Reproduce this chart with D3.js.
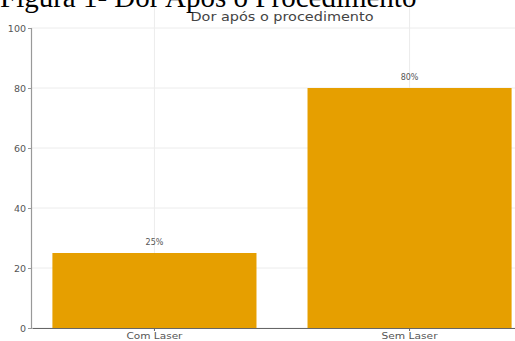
<!DOCTYPE html>
<html>
<head>
<meta charset="utf-8">
<script src="https://cdn.jsdelivr.net/npm/d3@7"></script>
<style>
  body { margin: 0; background: #fff; }
  svg { display: block; }
</style>
</head>
<body>
<div id="chart"></div>
<script>
// Dados do gráfico
const categories = ["Com Laser", "Sem Laser"];
const values = [25, 80];
const yTicks = [0, 20, 40, 60, 80, 100];

const width = 515;
const height = 341;
const margin = { top: 28, right: 0, bottom: 13, left: 31 };

const svg = d3.select("#chart")
    .append("svg")
    .attr("width", width)
    .attr("height", height);

// Escalas
const x = d3.scaleBand()
    .domain(categories)
    .range([margin.left + 1, 532])
    .paddingInner(0.2)
    .paddingOuter(0.08);

const y = d3.scaleLinear()
    .domain([0, 100])
    .range([height - margin.bottom, margin.top]);

// Grade
svg.append("g")
    .selectAll("line")
    .data(yTicks)
    .join("line")
    .attr("x1", margin.left)
    .attr("x2", width)
    .attr("y1", d => y(d))
    .attr("y2", d => y(d))
    .attr("stroke", "#ececec")
    .attr("stroke-width", 1);

svg.append("g")
    .selectAll("line")
    .data(categories)
    .join("line")
    .attr("x1", d => x(d) + x.bandwidth() / 2)
    .attr("x2", d => x(d) + x.bandwidth() / 2)
    .attr("y1", y(0))
    .attr("y2", 0)
    .attr("stroke", "#ececec")
    .attr("stroke-width", 1);

// Barras
svg.selectAll(".bar")
    .data(values)
    .join("rect")
    .attr("class", "bar")
    .attr("x", (d, i) => x(categories[i]))
    .attr("y", d => y(d))
    .attr("width", x.bandwidth())
    .attr("height", d => y(0) - y(d))
    .attr("fill", "#E69F00");

// Rótulos das barras
svg.selectAll(".label")
    .data(values)
    .join("text")
    .attr("class", "label")
    .attr("x", (d, i) => x(categories[i]) + x.bandwidth() / 2)
    .attr("y", d => y(d) - 8)
    .attr("text-anchor", "middle")
    .style("font-family", "DejaVu Sans, sans-serif")
    .style("font-size", "8px")
    .style("fill", "#555")
    .text(d => `${d}%`);

// Eixo Y
const yAxis = svg.append("g")
    .attr("transform", `translate(${margin.left},0)`)
    .call(d3.axisLeft(y).tickValues(yTicks).tickSize(3).tickPadding(2));
yAxis.select(".domain").attr("stroke", "#999").attr("stroke-width", 1.2);
yAxis.selectAll(".tick line").attr("stroke", "#999");
yAxis.selectAll("text")
    .style("font-family", "DejaVu Sans, sans-serif")
    .style("font-size", "9.5px")
    .style("fill", "#555");

// Eixo X
const xAxis = svg.append("g")
    .attr("transform", `translate(0,${y(0)})`)
    .call(d3.axisBottom(x).tickSize(3).tickPadding(1).tickSizeOuter(0));
xAxis.select(".domain").attr("stroke", "#666").attr("stroke-width", 1.2);
xAxis.selectAll(".tick line").attr("stroke", "#666");
xAxis.selectAll("text")
    .attr("textLength", 56)
    .attr("lengthAdjust", "spacingAndGlyphs")
    .style("font-family", "DejaVu Sans, sans-serif")
    .style("font-size", "9.5px")
    .style("fill", "#555");

// Título do gráfico
svg.append("text")
    .attr("x", 282)
    .attr("y", 21)
    .attr("text-anchor", "middle")
    .attr("textLength", 183)
    .attr("lengthAdjust", "spacingAndGlyphs")
    .style("font-family", "DejaVu Sans, sans-serif")
    .style("font-size", "11.5px")
    .style("fill", "#444")
    .text("Dor após o procedimento");

// Legenda da figura (cortada no topo)
svg.append("text")
    .attr("x", 0)
    .attr("y", 7)
    .style("font-family", "Liberation Serif, Times New Roman, serif")
    .style("font-size", "29px")
    .style("fill", "#000")
    .text("Figura 1- Dor Após o Procedimento");
</script>
</body>
</html>
